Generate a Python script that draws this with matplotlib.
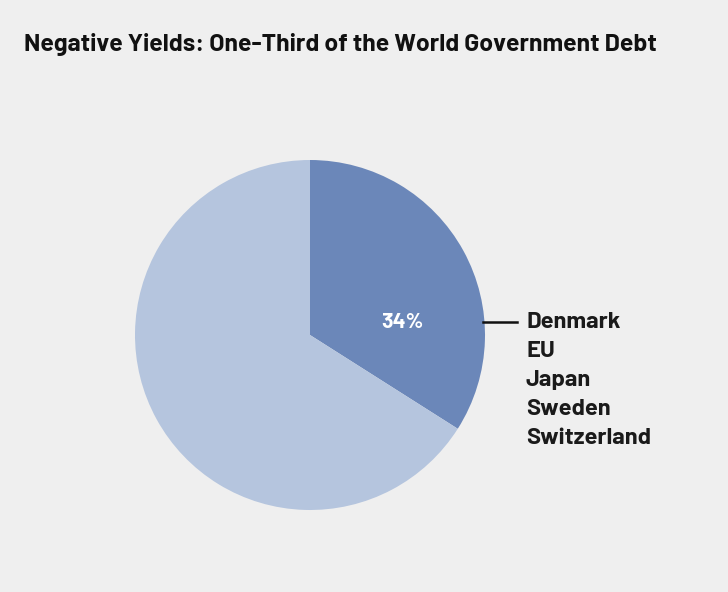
import matplotlib.pyplot as plt

shares = [34, 66]
colors = ["#6b87b9", "#b5c5de"]
pct_label = "34%"
countries = ["Denmark", "EU", "Japan", "Sweden", "Switzerland"]
title = "Negative Yields: One-Third of the World Government Debt"

fonts = ["Barlow", "Barlow Semi Condensed", "DejaVu Sans"]
bg = "#efefef"

fig = plt.figure(figsize=(7.28, 5.92), dpi=100, facecolor=bg)

# pie axes: centre (310, 335) px, radius 175 px
cx, cy, r = 310, 335, 175
ax = fig.add_axes([(cx - r) / 728, (592 - cy - r) / 592, 2 * r / 728, 2 * r / 592])
ax.set_facecolor(bg)
ax.pie(shares, colors=colors, startangle=90, counterclock=False, radius=1,
       wedgeprops={"linewidth": 0})
ax.set_xlim(-1, 1)
ax.set_ylim(-1, 1)
ax.set_aspect("equal")
ax.axis("off")

ax.text(0.53, 0.07, pct_label, color="white", fontsize=15.5, fontweight="bold",
        family=fonts, ha="center", va="center")

fig.text(24 / 728, 1 - 45 / 592, title, fontsize=17.8, fontweight="bold",
         family=fonts, color="#111111", va="center", ha="left")

# leader line
fig.add_artist(plt.Line2D([483 / 728, 517 / 728], [1 - 322 / 592, 1 - 322 / 592],
                          color="#111111", linewidth=1.8))

for i, name in enumerate(countries):
    y = 322 + 29 * i
    fig.text(526 / 728, 1 - y / 592, name, fontsize=17, fontweight="bold",
             family=fonts, color="#1a1a1a", va="center", ha="left")

fig.savefig("out.png", dpi=100, facecolor=bg)
